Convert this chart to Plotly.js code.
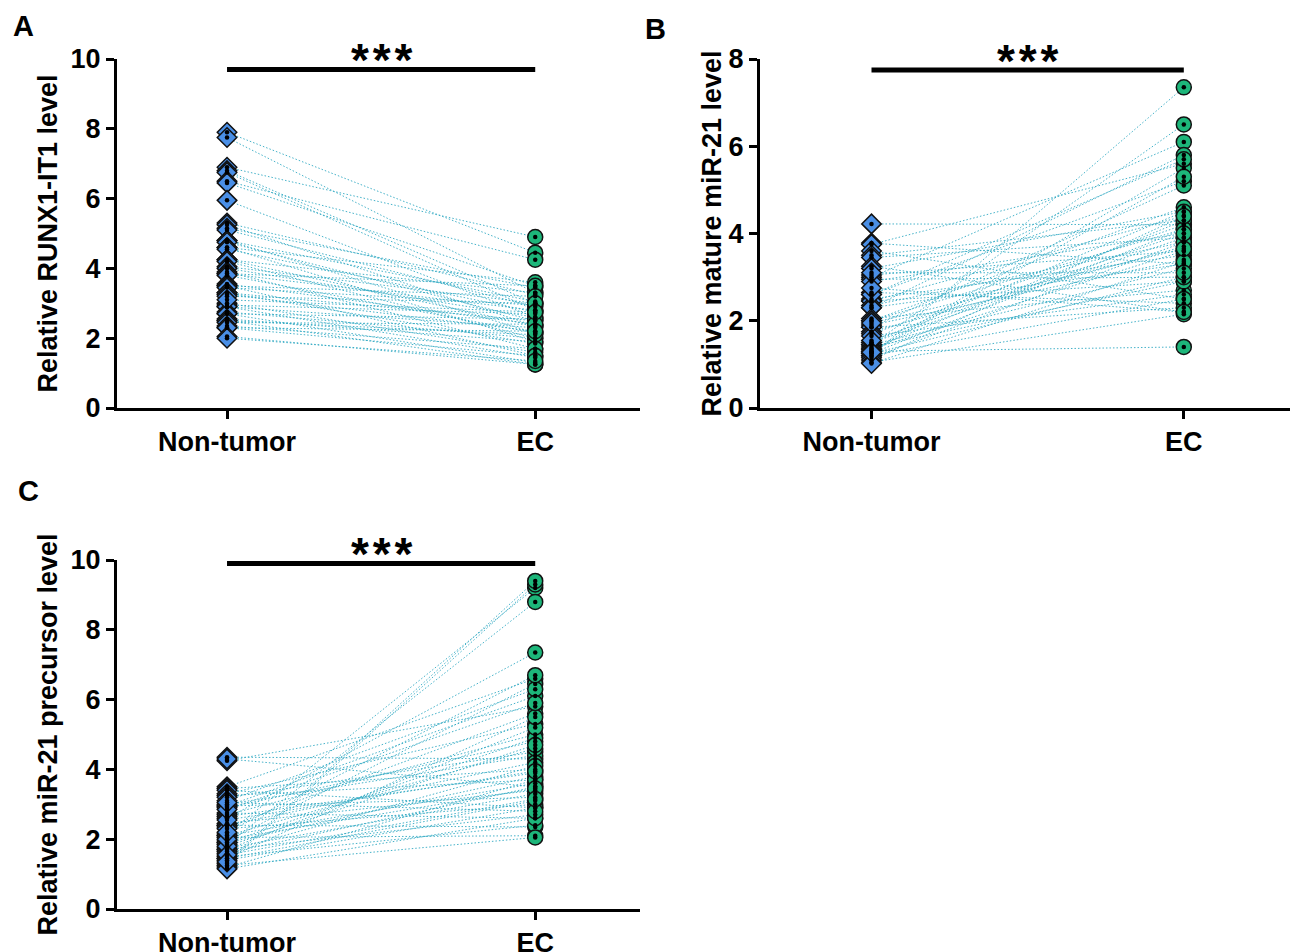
<!DOCTYPE html>
<html>
<head>
<meta charset="utf-8">
<script src="https://cdn.plot.ly/plotly-3.0.1.min.js"></script>
<style>html,body{margin:0;padding:0;background:#fff;}#chart{width:1294px;height:952px;}</style>
</head>
<body>
<div id="chart"></div>
<script>
const categories = ['Non-tumor', 'EC'];
const yTitleA = 'Relative RUNX1-IT1 level';
const yTitleB = 'Relative mature miR-21 level';
const yTitleC = 'Relative miR-21 precursor level';
const panelLabels = ['A', 'B', 'C'];
const sigLabel = '*\u200a*\u200a*';

const nonTumorA = [7.9, 7.75, 6.9, 6.8, 6.75, 6.5, 6.45, 5.95, 5.3, 5.25, 5.15, 5.1, 4.8, 4.8, 4.75, 4.6, 4.6, 4.55, 4.25, 4.25, 4.2, 4.05, 4.0, 3.9, 3.85, 3.85, 3.8, 3.55, 3.5, 3.5, 3.45, 3.3, 3.3, 3.25, 3.2, 3.0, 2.95, 2.9, 2.9, 2.75, 2.7, 2.7, 2.55, 2.5, 2.5, 2.45, 2.35, 2.3, 2.3, 2.05, 2.0, 3.1];
const ecA = [4.45, 3.3, 4.9, 3.0, 2.8, 4.25, 3.5, 2.6, 3.25, 2.35, 3.45, 2.9, 2.15, 3.05, 2.5, 3.6, 1.9, 2.75, 3.3, 2.35, 2.0, 3.0, 2.6, 1.7, 2.8, 3.5, 2.15, 2.4, 1.5, 3.2, 2.95, 1.85, 2.5, 2.2, 3.0, 1.6, 2.7, 1.45, 2.3, 2.0, 1.3, 2.55, 1.9, 2.1, 1.25, 2.4, 1.7, 1.5, 2.2, 1.25, 1.35, 2.75];

const nonTumorB = [4.22, 3.78, 3.75, 3.6, 3.5, 3.45, 3.25, 3.2, 3.05, 3.0, 2.95, 2.9, 2.65, 2.6, 2.5, 2.45, 2.45, 2.35, 2.3, 2.3, 2.05, 2.0, 2.0, 1.9, 1.85, 1.85, 1.75, 1.7, 1.65, 1.5, 1.5, 1.45, 1.45, 1.4, 1.35, 1.35, 1.3, 1.3, 1.25, 1.25, 1.2, 1.2, 1.15, 1.1, 1.05, 1.02, 2.6, 3.1, 1.55, 2.75, 1.95, 1.28];
const ecB = [4.2, 3.3, 5.6, 2.5, 4.3, 3.9, 2.2, 4.5, 3.6, 6.1, 3.0, 4.0, 2.4, 5.2, 3.5, 4.4, 2.9, 3.8, 5.8, 3.3, 2.7, 4.6, 4.1, 3.4, 2.3, 5.1, 3.7, 4.2, 2.6, 3.9, 4.5, 3.2, 6.5, 2.9, 4.3, 3.6, 1.4, 5.5, 3.0, 4.1, 2.5, 7.35, 3.8, 4.4, 2.15, 3.35, 5.7, 3.1, 4.0, 2.2, 3.65, 5.3];

const nonTumorC = [4.35, 4.25, 4.3, 3.5, 3.45, 3.4, 3.3, 3.25, 3.2, 3.0, 2.95, 2.95, 2.9, 2.75, 2.7, 2.65, 2.6, 2.45, 2.4, 2.4, 2.35, 2.3, 2.15, 2.1, 2.1, 2.05, 1.95, 1.9, 1.9, 1.85, 1.75, 1.7, 1.7, 1.65, 1.6, 1.5, 1.45, 1.45, 1.4, 1.3, 1.25, 1.2, 1.15, 3.1, 2.55, 1.8, 2.85, 2.0, 3.05, 2.2, 1.55, 1.35];
const ecC = [4.3, 5.8, 3.5, 6.6, 4.0, 2.9, 5.3, 3.7, 4.5, 4.4, 3.2, 6.1, 4.8, 2.6, 5.0, 3.9, 7.35, 3.4, 4.2, 2.35, 5.6, 3.0, 9.2, 4.6, 3.6, 2.1, 6.45, 3.8, 4.9, 8.8, 3.3, 2.7, 5.2, 4.1, 3.5, 2.4, 5.5, 3.1, 2.9, 9.3, 2.05, 3.7, 2.6, 6.3, 3.95, 4.7, 5.9, 3.45, 2.8, 6.7, 3.15, 9.4];

const sigBarY = [9.7, 7.75, 9.9];
const yMax = [10, 8, 10];

const FONT = 'Liberation Sans, Arial, Helvetica, sans-serif';
const blue = '#4a8fe6';
const green = '#1db67a';
const lineCol = 'rgba(50,170,195,0.9)';

function panel(nt, ec, xa, ya) {
  const lx = [], ly = [];
  for (let i = 0; i < nt.length; i++) {
    lx.push(categories[0], categories[1], null);
    ly.push(nt[i], ec[i], null);
  }
  return [
    {type: 'scatter', mode: 'lines', x: lx, y: ly, xaxis: xa, yaxis: ya,
     line: {color: lineCol, width: 1, dash: '1.5px,2px'}, hoverinfo: 'skip', showlegend: false},
    {type: 'scatter', mode: 'markers', x: nt.map(() => categories[0]), y: nt, xaxis: xa, yaxis: ya,
     marker: {symbol: 'diamond', size: 15, color: blue, line: {color: '#111', width: 1.5}}, showlegend: false},
    {type: 'scatter', mode: 'markers', x: ec.map(() => categories[1]), y: ec, xaxis: xa, yaxis: ya,
     marker: {symbol: 'circle', size: 15, color: green, line: {color: '#111', width: 1.5}}, showlegend: false},
    {type: 'scatter', mode: 'markers', x: nt.map(() => categories[0]).concat(ec.map(() => categories[1])),
     y: nt.concat(ec), xaxis: xa, yaxis: ya,
     marker: {symbol: 'circle', size: 4.5, color: '#000'}, showlegend: false}
  ];
}

const data = [].concat(
  panel(nonTumorA, ecA, 'x', 'y'),
  panel(nonTumorB, ecB, 'x2', 'y2'),
  panel(nonTumorC, ecC, 'x3', 'y3')
);

const W = 1294, H = 952;
function xAxis(l, r, anchor) {
  return {domain: [l / W, r / W], anchor: anchor, type: 'category',
    range: [-0.357, 1.34], showgrid: false, zeroline: false,
    showline: true, linecolor: '#000', linewidth: 3,
    ticks: 'outside', ticklen: 8, tickwidth: 3, tickcolor: '#000',
    tickfont: {family: FONT, size: 27, color: '#000', weight: 'bold'},
    fixedrange: true};
}
function yAxis(t, b, anchor, max, title, standoff) {
  return {domain: [1 - b / H, 1 - t / H], anchor: anchor, range: [0, max],
    dtick: 2, tick0: 0, showgrid: false, zeroline: false,
    showline: true, linecolor: '#000', linewidth: 3,
    ticks: 'outside', ticklen: 8, tickwidth: 3, tickcolor: '#000',
    tickfont: {family: FONT, size: 27, color: '#000', weight: 'bold'},
    title: {text: title, font: {family: FONT, size: 27, color: '#000', weight: 'bold'}, standoff: standoff},
    automargin: false, fixedrange: true};
}

const shapes = [];
const annotations = [];
[['x', 'y'], ['x2', 'y2'], ['x3', 'y3']].forEach((p, i) => {
  shapes.push({type: 'line', xref: p[0], yref: p[1], x0: categories[0], x1: categories[1],
    y0: sigBarY[i], y1: sigBarY[i], line: {color: '#000', width: 5}});
  annotations.push({xref: p[0], yref: p[1], x: 0.5, y: sigBarY[i], yanchor: 'bottom', yshift: -19,
    text: '<b>' + sigLabel + '</b>', showarrow: false,
    font: {family: FONT, size: 46, color: '#000'}});
});
const labelPos = [[11, 26], [643, 29], [16, 491]];
panelLabels.forEach((t, i) => {
  annotations.push({xref: 'paper', yref: 'paper', x: labelPos[i][0] / W, y: 1 - labelPos[i][1] / H,
    xanchor: 'left', yanchor: 'middle', text: '<b>' + t + '</b>', showarrow: false,
    font: {family: FONT, size: 29, color: '#000'}});
});

const layout = {
  width: W, height: H, margin: {l: 0, r: 0, t: 0, b: 0},
  paper_bgcolor: '#fff', plot_bgcolor: '#fff', showlegend: false,
  xaxis: xAxis(117, 640, 'y'),
  yaxis: yAxis(59, 408, 'x', yMax[0], yTitleA, 6),
  xaxis2: xAxis(760, 1290, 'y2'),
  yaxis2: yAxis(59, 408, 'x2', yMax[1], yTitleB, 0),
  xaxis3: xAxis(117, 640, 'y3'),
  yaxis3: yAxis(560, 909, 'x3', yMax[2], yTitleC, 6),
  shapes: shapes, annotations: annotations
};

Plotly.newPlot('chart', data, layout, {displayModeBar: false, staticPlot: true});
</script>
</body>
</html>
